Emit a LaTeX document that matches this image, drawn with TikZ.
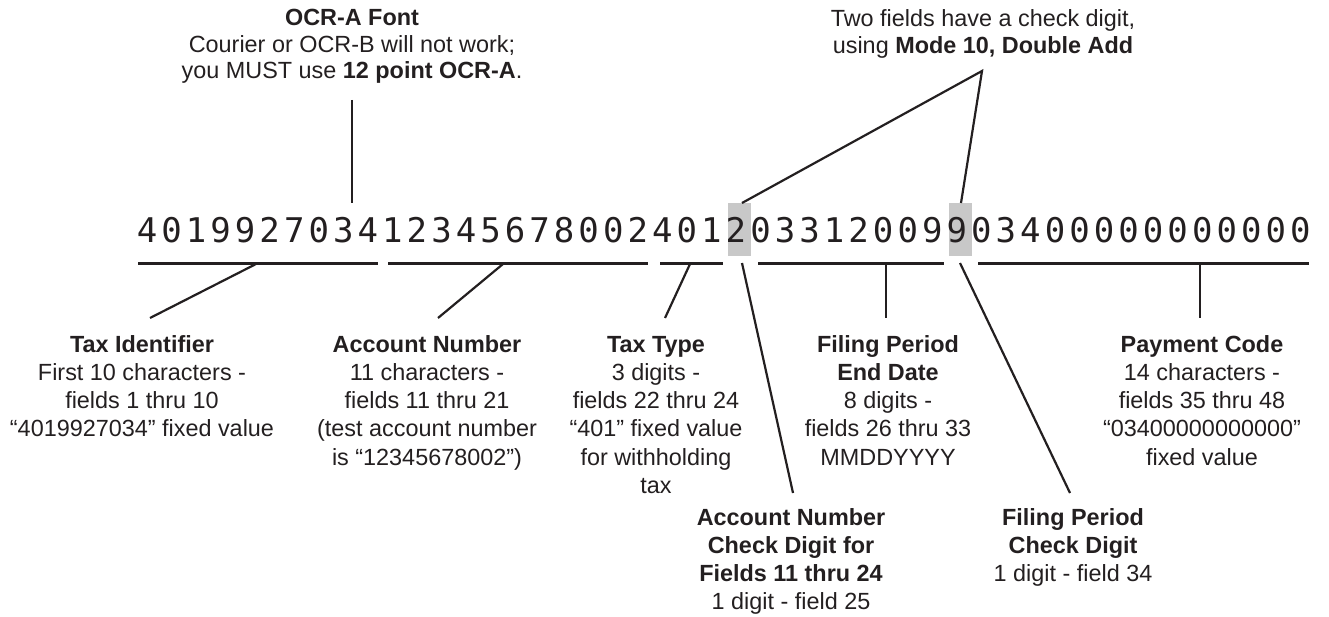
\documentclass[tikz,border=0pt]{standalone}
\usepackage{fontspec}
\setmainfont{Liberation Sans}
\newfontfamily\ocrfont{DejaVu Sans Mono}
\definecolor{ink}{HTML}{231F20}
\definecolor{hl}{HTML}{C8C8C8}
\begin{document}
\begin{tikzpicture}[x=1pt,y=-1pt,
  lbl/.style={align=center, anchor=base, inner sep=0pt, text=ink, font=\fontsize{23.4}{28.3}\selectfont},
  toplbl/.style={lbl, font=\fontsize{23.4}{26.7}\selectfont},
  digit/.style={anchor=base, inner sep=0pt, text=ink, font=\ocrfont\fontsize{34}{34}\selectfont},
  hlbox/.style={fill=hl, draw=none, inner sep=0pt, minimum width=23pt, minimum height=53pt},
  uline/.style={draw=ink, line width=3pt},
  conn/.style={draw=ink, line width=2.2pt}]
\useasboundingbox (0,0) rectangle (1329,617);

% highlighted check digits
\node[hlbox] (hA) at (739.5,229.5) {};
\node[hlbox] (hB) at (960.5,229.5) {};

% OCR line
\foreach \d [count=\i from 0] in {4,0,1,9,9,2,7,0,3,4,1,2,3,4,5,6,7,8,0,0,2,4,0,1,2,0,3,3,1,2,0,0,9,9,0,3,4,0,0,0,0,0,0,0,0,0,0,0}
  \node[digit] (d\i) at ({147+\i*24.54},243) {\d};

% underlines
\coordinate (u1a) at (138,264); \coordinate (u1b) at (378,264);
\coordinate (u2a) at (388,264); \coordinate (u2b) at (648,264);
\coordinate (u3a) at (660,264); \coordinate (u3b) at (723,264);
\coordinate (u4a) at (758,264); \coordinate (u4b) at (944,264);
\coordinate (u5a) at (978,264); \coordinate (u5b) at (1309,264);
\draw[uline] (u1a) -- (u1b);
\draw[uline] (u2a) -- (u2b);
\draw[uline] (u3a) -- (u3b);
\draw[uline] (u4a) -- (u4b);
\draw[uline] (u5a) -- (u5b);

% labels (anchor = baseline of last line)
\node[toplbl] (ocr) at (352,78.9) {\textbf{OCR-A Font}\\Courier or OCR-B will not work;\\you MUST use \textbf{12 point OCR-A}.};
\node[toplbl] (two) at (983,53.2) {Two fields have a check digit,\\using \textbf{Mode 10, Double Add}};
\node[lbl] (taxid) at (142,436.9) {\textbf{Tax Identifier}\\First 10 characters -\\fields 1 thru 10\\“4019927034” fixed value};
\node[lbl] (acct) at (427,465.2) {\textbf{Account Number}\\11 characters -\\fields 11 thru 21\\(test account number\\is “12345678002”)};
\node[lbl] (taxtype) at (656,493.5) {\textbf{Tax Type}\\3 digits -\\fields 22 thru 24\\“401” fixed value\\for withholding\\tax};
\node[lbl] (fped) at (888,465.2) {\textbf{Filing Period}\\\textbf{End Date}\\8 digits -\\fields 26 thru 33\\MMDDYYYY};
\node[lbl] (pay) at (1202,465.2) {\textbf{Payment Code}\\14 characters -\\fields 35 thru 48\\“03400000000000”\\fixed value};
\node[lbl] (acd) at (791,609.9) {\textbf{Account Number}\\\textbf{Check Digit for}\\\textbf{Fields 11 thru 24}\\1 digit - field 25};
\node[lbl] (fpcd) at (1073,581.6) {\textbf{Filing Period}\\\textbf{Check Digit}\\1 digit - field 34};

% connectors
\coordinate (o1) at (352,100); \coordinate (o2) at (352,203);
\draw[conn] (o1) -- (o2);
\coordinate (apex) at (982,71); \coordinate (tA) at (742,203); \coordinate (tB) at (961,203);
\draw[conn] (tA) -- (apex) -- (tB);
\coordinate (c1a) at (256,264); \coordinate (c1b) at (150,318);
\coordinate (c2a) at (503,264); \coordinate (c2b) at (438,318);
\coordinate (c3a) at (690,264); \coordinate (c3b) at (665,318);
\coordinate (c4a) at (742,263); \coordinate (c4b) at (793,493);
\coordinate (c5a) at (886,264); \coordinate (c5b) at (886,318);
\coordinate (c6a) at (960,263); \coordinate (c6b) at (1070,493);
\coordinate (c7a) at (1200,264); \coordinate (c7b) at (1200,318);
\draw[conn] (c1a) -- (c1b);
\draw[conn] (c2a) -- (c2b);
\draw[conn] (c3a) -- (c3b);
\draw[conn] (c4a) -- (c4b);
\draw[conn] (c5a) -- (c5b);
\draw[conn] (c6a) -- (c6b);
\draw[conn] (c7a) -- (c7b);
\end{tikzpicture}
\end{document}
